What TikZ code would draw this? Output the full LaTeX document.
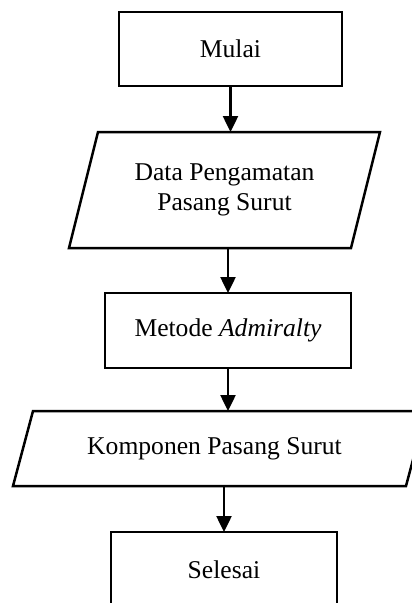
\documentclass[tikz,border=0pt]{standalone}
\usepackage{fontspec}
\setmainfont{Liberation Serif}
\usetikzlibrary{arrows.meta,calc}
\begin{document}
\begin{tikzpicture}[x=1pt,y=1pt,
  every node/.style={font=\fontsize{25.6}{30}\selectfont, outer sep=0pt, inner sep=0pt, align=center},
  line/.style={line width=2.5pt, line join=miter},
  procbox/.style={draw, line width=2.5pt},
  flow/.style={line width=2.5pt, -{Triangle[width=15pt,length=16pt]}}]
  \useasboundingbox (0,0) rectangle (412,-603);
  \clip (0,0) rectangle (412,-603);

  % process boxes
  \node[procbox, minimum width=223, minimum height=74] (mulai) at (230.5,-49) {Mulai};
  \node[procbox, minimum width=246, minimum height=75] (metode) at (228,-330.5) {Metode \textit{Admiralty}};
  \node[procbox, minimum width=226, minimum height=76] (selesai) at (224,-570) {Selesai};

  % input/output parallelograms
  \node[minimum width=282, minimum height=116] (data) at (224.5,-190) {Data Pengamatan\\Pasang Surut};
  \draw[line] ($(data.north west)+(14.5,0)$) -- ($(data.north east)+(14.5,0)$)
    -- ($(data.south east)+(-14.5,0)$) -- ($(data.south west)+(-14.5,0)$) -- cycle;

  \node[minimum width=383, minimum height=75] (komp) at (214.5,-448.5) {Komponen Pasang Surut};
  \draw[line] ($(komp.north west)+(10,0)$) -- ($(komp.north east)+(20,0)$)
    -- (komp.south east) -- ($(komp.south west)+(-10,0)$) -- cycle;

  % connectors
  \draw[flow] (mulai.south) -- (mulai.south |- data.north);
  \draw[flow] (data.south -| metode.north) -- (metode.north);
  \draw[flow] (metode.south) -- (metode.south |- komp.north);
  \draw[flow] (selesai.north |- komp.south) -- (selesai.north);
\end{tikzpicture}
\end{document}
